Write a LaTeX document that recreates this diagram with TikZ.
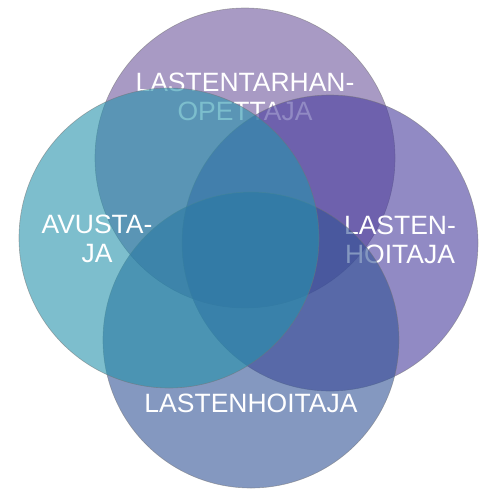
\documentclass[tikz,border=0pt]{standalone}
\usepackage{fontspec}
\setmainfont{Liberation Sans}
\definecolor{ctop}{RGB}{110,87,157}
\definecolor{cright}{RGB}{72,60,157}
\definecolor{cleft}{RGB}{38,147,172}
\definecolor{cbottom}{RGB}{50,83,150}
\tikzset{
  ring/.style={circle, inner sep=0pt, minimum size=#1, fill opacity=0.6, draw=black!55, draw opacity=0.55, line width=0.6pt},
  lbl/.style={text=white, align=center, inner sep=0pt, font=\fontsize{26.5}{29}\selectfont, anchor=base}
}
\begin{document}
\begin{tikzpicture}[x=1pt,y=-1pt]
\useasboundingbox (0,0) rectangle (483,490);
\node[ring=300pt, fill=ctop] (ctopn) at (245,158) {};
\node[lbl] (ttop) at (245,120) {LASTENTARHAN-\\OPETTAJA};
\node[ring=296pt, fill=cright] (crightn) at (330,243) {};
\node[lbl] (tright) at (400,263) {LASTEN-\\HOITAJA};
\node[ring=296pt, fill=cbottom] (cbottomn) at (251,340) {};
\node[lbl] (tbottom) at (251,412) {LASTENHOITAJA};
\node[ring=300pt, fill=cleft] (cleftn) at (169,238) {};
\node[lbl] (tleft) at (97,262) {AVUSTA-\\JA};
\end{tikzpicture}
\end{document}
